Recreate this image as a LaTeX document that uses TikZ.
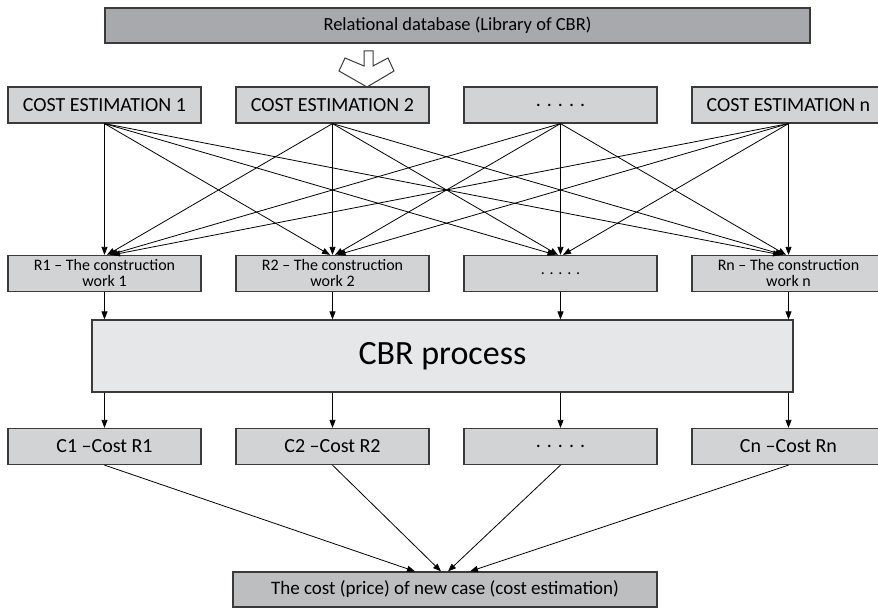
\documentclass[tikz,border=0pt]{standalone}
\usepackage{fontspec}
\setmainfont{Carlito}
\usetikzlibrary{arrows.meta}

\definecolor{topgray}{HTML}{A7A9AC}
\definecolor{rowgray}{HTML}{D1D3D4}
\definecolor{cbrgray}{HTML}{E6E7E8}
\definecolor{endgray}{HTML}{BCBEC0}
\definecolor{edgegray}{HTML}{3A3A3A}

\tikzset{
        box/.style={draw=edgegray, line width=1.2pt, fill=rowgray, minimum width=193pt,
                minimum height=36pt, inner sep=0pt, align=center, font=\fontsize{20}{20}\selectfont},
        rbox/.style={box, font=\fontsize{16}{16}\selectfont},
        link/.style={-{Triangle[length=8pt,width=6pt]}, line width=0.8pt, black}
}

\begin{document}
\begin{tikzpicture}[x=1pt, y=-1pt]
        \useasboundingbox (0,0) rectangle (878,609);

        % Datenbank
        \node[box, fill=topgray, minimum width=705pt, minimum height=35pt,
                font=\fontsize{18.5}{18.5}\selectfont] (db) at (457.5,25.5) {Relational database (Library of CBR)};

        % Blockpfeil
        \draw[edgegray, line width=1pt, fill=white] (364,51) -- (373,51) -- (373,66) -- (388,58)
                -- (394,71) -- (367,87) -- (339,71) -- (345,58) -- (364,66) -- cycle;

        % Kostenschaetzungen
        \foreach \i/\x/\txt in {1/104.5/{COST ESTIMATION 1}, 2/332.5/{COST ESTIMATION 2},
                        3/560.5/{. . . . .}, 4/788.5/{COST ESTIMATION n}} {
                \node[box] (est\i) at (\x,105) {\txt};
            }

        % Bauarbeiten
        \foreach \i/\x/\txt in {1/104.5/{R1 -- The construction\\work 1}, 2/332.5/{R2 -- The construction\\work 2},
                        3/560.5/{. . . . .}, 4/788.5/{Rn -- The construction\\work n}} {
                \node[rbox] (work\i) at (\x,273.5) {\txt};
            }

        % alle Verbindungen
        \foreach \i in {1,...,4} {
                \foreach \j in {1,...,4} {
                        \draw[link] (est\i.south) -- ([xshift={(\i-\j)*2.5pt}]work\j.north);
                    }
            }

        % CBR
        \node[box, fill=cbrgray, minimum width=701pt, minimum height=72pt,
                font=\fontsize{34}{34}\selectfont] (cbr) at (442.5,356) {CBR process};

        % Kosten
        \foreach \i/\x/\txt in {1/104.5/{C1 --Cost R1}, 2/332.5/{C2 --Cost R2},
                        3/560.5/{. . . . .}, 4/788.5/{Cn --Cost Rn}} {
                \node[box] (cost\i) at (\x,446.5) {\txt};
                \draw[link] (work\i.south) -- (work\i.south |- cbr.north);
                \draw[link] (cost\i.north |- cbr.south) -- (cost\i.north);
            }

        % Ergebnis
        \node[box, fill=endgray, minimum width=424pt, minimum height=35pt,
                font=\fontsize{19}{19}\selectfont] (newcase) at (445,589.5) {The cost (price) of new case (cost estimation)};
        \foreach \j/\dx in {1/-30, 2/-4, 3/3, 4/25}
        \draw[link] (cost\j.south) -- ([xshift=\dx pt]newcase.north);

    \end{tikzpicture}
\end{document}
